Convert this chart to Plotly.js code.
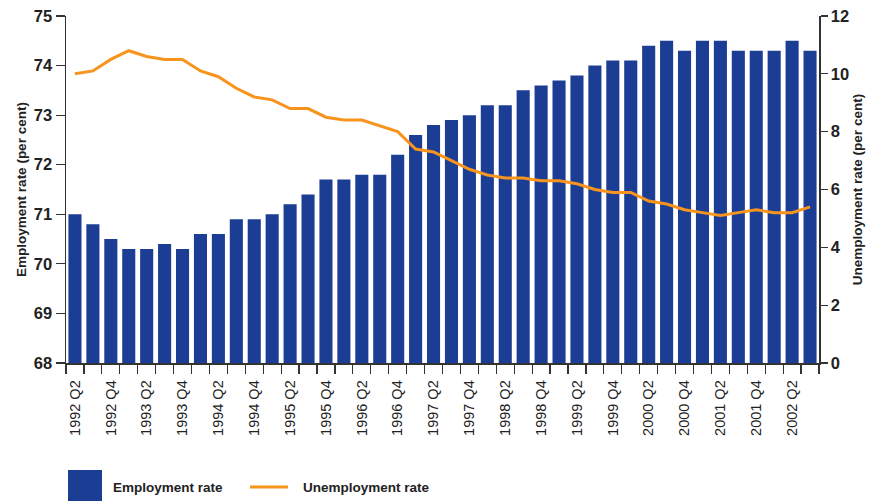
<!DOCTYPE html>
<html><head><meta charset="utf-8">
<script src="https://cdn.plot.ly/plotly-3.0.1.min.js"></script>
<style>html,body{margin:0;padding:0;background:#fff}#chart{width:871px;height:502px}</style>
</head><body><div id="chart"></div>
<script>
const quarters = [
 "1992 Q2","1992 Q3","1992 Q4","1993 Q1","1993 Q2","1993 Q3","1993 Q4","1994 Q1","1994 Q2","1994 Q3","1994 Q4",
 "1995 Q1","1995 Q2","1995 Q3","1995 Q4","1996 Q1","1996 Q2","1996 Q3","1996 Q4","1997 Q1","1997 Q2","1997 Q3","1997 Q4",
 "1998 Q1","1998 Q2","1998 Q3","1998 Q4","1999 Q1","1999 Q2","1999 Q3","1999 Q4","2000 Q1","2000 Q2","2000 Q3","2000 Q4",
 "2001 Q1","2001 Q2","2001 Q3","2001 Q4","2002 Q1","2002 Q2","2002 Q3"];
const employmentRate = [71.0,70.8,70.5,70.3,70.3,70.4,70.3,70.6,70.6,70.9,70.9,71.0,71.2,71.4,71.7,71.7,71.8,71.8,72.2,72.6,72.8,72.9,73.0,73.2,73.2,73.5,73.6,73.7,73.8,74.0,74.1,74.1,74.4,74.5,74.3,74.5,74.5,74.3,74.3,74.3,74.5,74.3];
const unemploymentRate = [10.0,10.1,10.5,10.8,10.6,10.5,10.5,10.1,9.9,9.5,9.2,9.1,8.8,8.8,8.5,8.4,8.4,8.2,8.0,7.4,7.3,7.0,6.7,6.5,6.4,6.4,6.3,6.3,6.2,6.0,5.9,5.9,5.6,5.5,5.3,5.2,5.1,5.2,5.3,5.2,5.2,5.4];
const labelQuarters = quarters.filter((q,i)=>i%2===0);

const idx = quarters.map((q,i)=>i);
const tickIdx = idx.filter(i=>i%2===0);

const ml=66, mr=52, mt=16, mb=139, W=871, H=502;
const pw=W-ml-mr, ph=H-mt-mb;
const px = x => (x-ml)/pw;
const py = y => (H-mb-y)/ph;

const txt = '#222222';
const blue = '#1c3d94';
const orange = '#f7941d';
const fam = '"Liberation Sans", Arial, sans-serif';

const traces = [
 {type:'bar', x:idx, y:employmentRate, name:'Employment rate', marker:{color:blue}, yaxis:'y', hoverinfo:'y'},
 {type:'scatter', mode:'lines', x:idx, y:unemploymentRate, name:'Unemployment rate', line:{color:orange,width:3}, yaxis:'y2'}
];

const layout = {
 width:W, height:H, margin:{l:ml,r:mr,t:mt,b:mb},
 paper_bgcolor:'#fff', plot_bgcolor:'#fff',
 showlegend:false, bargap:0.27,
 font:{family:fam, color:txt},
 xaxis:{type:'linear', range:[-0.5,41.5], tickmode:'array', tickvals:tickIdx, ticktext:labelQuarters,
   tickangle:-90, ticks:'outside', ticklen:10, tickcolor:'rgba(0,0,0,0)', showgrid:false, zeroline:false,
   showline:true, linecolor:'#333', linewidth:1.5, tickfont:{size:14.5, color:txt, family:fam},
   minor:{tickmode:'linear', tick0:-0.5, dtick:1, ticks:'outside', ticklen:9, tickcolor:'#333', tickwidth:1.2, showgrid:false}},
 yaxis:{range:[68,75], dtick:1, ticks:'outside', ticklen:9, tickcolor:'#333', tickwidth:1.2, showline:true,
   linecolor:'#333', linewidth:1.5, showgrid:false, zeroline:false, tickfont:{size:16.5, color:txt, family:fam, weight:'bold'},
   title:{text:'<b>Employment rate (per cent)</b>', font:{size:13.5, color:txt, family:fam}, standoff:4}},
 yaxis2:{range:[0,12], dtick:2, overlaying:'y', side:'right', ticks:'outside', ticklen:7, tickcolor:'#333', tickwidth:1.2,
   showline:true, linecolor:'#333', linewidth:1.5, showgrid:false, zeroline:false, tickfont:{size:16.5, color:txt, family:fam, weight:'bold'},
   title:{text:'<b>Unemployment rate (per cent)</b>', font:{size:13.5, color:txt, family:fam}, standoff:4}},
 shapes:[
  {type:'rect', xref:'paper', yref:'paper', x0:px(68), x1:px(102), y0:py(501), y1:py(470), fillcolor:blue, line:{width:0}},
  {type:'line', xref:'paper', yref:'paper', x0:px(250), x1:px(288), y0:py(487), y1:py(487), line:{color:orange,width:3}}
 ],
 annotations:[
  {xref:'paper', yref:'paper', x:px(111), y:py(487), xanchor:'left', yanchor:'middle', showarrow:false,
   text:'<b>Employment rate</b>', font:{size:13.5, color:txt, family:fam}},
  {xref:'paper', yref:'paper', x:px(301), y:py(487), xanchor:'left', yanchor:'middle', showarrow:false,
   text:'<b>Unemployment rate</b>', font:{size:13.5, color:txt, family:fam}}
 ]
};
Plotly.newPlot('chart', traces, layout, {displayModeBar:false, staticPlot:true});
</script></body></html>
